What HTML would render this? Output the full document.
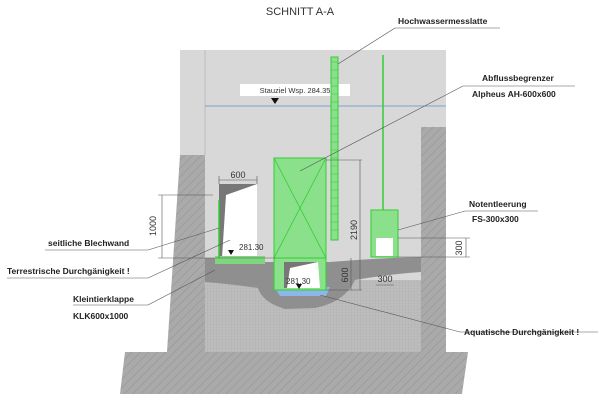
<!DOCTYPE html>
<html><head><meta charset="utf-8"><style>
html,body{margin:0;padding:0;background:#fff;width:600px;height:400px;overflow:hidden}
svg{display:block}
text{font-family:"Liberation Sans",sans-serif}
.lb{font-size:8.5px;font-weight:bold;fill:#222}
</style></head><body>
<svg width="600" height="400" viewBox="0 0 600 400">
<defs>
<pattern id="h" width="6" height="6" patternUnits="userSpaceOnUse" patternTransform="rotate(45)">
<rect width="6" height="6" fill="#aaa"/><line x1="0" y1="0" x2="0" y2="6" stroke="#959595" stroke-width="1.2"/></pattern>
<pattern id="g" width="3" height="3" patternUnits="userSpaceOnUse">
<rect width="3" height="3" fill="#bdbdbd"/><path d="M0 0H3M0 0V3" stroke="#adadad" stroke-width="0.6"/></pattern>
</defs>
<text x="300" y="15" font-size="11" text-anchor="middle" fill="#333">SCHNITT A-A</text>
<!-- slab -->
<polygon points="125,352 468,352 462,394 120,394" fill="url(#h)"/>
<!-- upper gray -->
<rect x="180" y="50" width="266" height="302" fill="#d8d8d8"/>
<line x1="205" y1="50" x2="205" y2="155" stroke="#bbb"/>
<!-- left wall -->
<polygon points="180,155 205,155 205,352 167,352" fill="url(#h)"/>
<!-- right wall -->
<rect x="421" y="127" width="25" height="225" fill="url(#h)"/>
<!-- grid ground -->
<rect x="205" y="280" width="216" height="72" fill="url(#g)"/>
<!-- stones -->
<path d="M205,258 Q230,258 260,262 Q300,262 330,262 Q380,258 421,257 L421,272 Q390,274 355,280 Q345,302 315,308 L285,309 Q262,302 258,288 Q230,284 205,282Z" fill="#8f8f8f"/>
<!-- water -->
<path d="M274,287 L330,287 L326,296 L280,296Z" fill="#8fb6e8"/>
<!-- water level -->
<line x1="205" y1="106" x2="446" y2="106" stroke="#7f9fd6" stroke-width="1"/>
<rect x="240" y="84" width="110" height="12" fill="#fff"/>
<text x="295" y="93" font-size="7.5" text-anchor="middle" fill="#333">Stauziel Wsp. 284.35</text>
<polygon points="271,98 279,98 275,104" fill="#111"/>
<!-- left opening -->
<polygon points="219,184 257,184 257,258 219,258" fill="#fff"/>
<polygon points="219,184 257,184 226,195 222,258 219,258" fill="#777"/>
<rect x="215" y="256" width="50" height="8" fill="#7ed67e"/>
<line x1="219" y1="200" x2="219" y2="258" stroke="#3c3" stroke-width="1.5"/>
<polygon points="228,250 234,250 231,255" fill="#111"/>
<text x="239" y="250" font-size="8" fill="#333">281.30</text>
<!-- green box -->
<rect x="274" y="158" width="52" height="100" fill="#8be08b" stroke="#3c3"/>
<path d="M274,158 L326,258 M326,158 L274,258" stroke="#3c3" stroke-width="0.8"/>
<rect x="274" y="258" width="52" height="32" fill="#8be08b" stroke="#3c3"/>
<polygon points="284,262 318,262 320,288 284,288" fill="#fff"/>
<polygon points="284,262 318,262 290,268 287,288 284,288" fill="#777"/>
<polygon points="296,284 302,284 299,289" fill="#111"/>
<text x="286" y="284" font-size="8" fill="#333">281.30</text>
<!-- gauge -->
<rect x="331" y="57" width="7" height="183" fill="#8be08b" stroke="#3c3"/>
<path d="M331,62H338M331,70H338M331,78H338M331,86H338M331,94H338M331,102H338M331,110H338M331,118H338M331,126H338M331,134H338M331,142H338M331,150H338M331,158H338M331,166H338M331,174H338M331,182H338M331,190H338M331,198H338M331,206H338M331,214H338M331,222H338M331,230H338" stroke="#3c3" stroke-width="0.6"/>
<!-- rod & gate -->
<line x1="383" y1="55" x2="383" y2="210" stroke="#3c3" stroke-width="1.5"/>
<rect x="371" y="210" width="27" height="47" fill="#8be08b" stroke="#3c3"/>
<rect x="376" y="238" width="17" height="18" fill="#fff"/>
<!-- dims -->
<g stroke="#555" stroke-width="0.6" fill="none">
<line x1="219" y1="180" x2="257" y2="180"/><line x1="219" y1="176" x2="219" y2="184"/><line x1="257" y1="176" x2="257" y2="184"/>
<line x1="158" y1="195" x2="213" y2="195"/><line x1="158" y1="258" x2="275" y2="258"/><line x1="162" y1="195" x2="162" y2="258"/>
<line x1="326" y1="160" x2="362" y2="160"/><line x1="360" y1="160" x2="360" y2="290"/><line x1="326" y1="290" x2="362" y2="290"/>
<line x1="351" y1="258" x2="351" y2="290"/>
<line x1="398" y1="238" x2="470" y2="238"/><line x1="398" y1="257" x2="470" y2="257"/><line x1="466" y1="238" x2="466" y2="257"/>
<line x1="376" y1="285" x2="394" y2="285"/>
<line x1="338" y1="64" x2="395" y2="28"/><line x1="395" y1="28" x2="500" y2="28"/>
<line x1="300" y1="171" x2="463" y2="86"/><line x1="463" y1="86" x2="575" y2="86"/>
<line x1="398" y1="230" x2="465" y2="211"/><line x1="465" y1="211" x2="538" y2="211"/>
<line x1="45" y1="250" x2="148" y2="250"/><line x1="148" y1="250" x2="219" y2="228"/>
<line x1="7" y1="278" x2="148" y2="278"/><line x1="148" y1="278" x2="230" y2="240"/>
<line x1="73" y1="305" x2="148" y2="305"/><line x1="148" y1="305" x2="215" y2="270"/>
<line x1="320" y1="295" x2="460" y2="332"/><line x1="460" y1="332" x2="598" y2="332"/>
</g>
<text x="238" y="178" font-size="9" text-anchor="middle" fill="#333">600</text>
<text transform="translate(156,226) rotate(-90)" font-size="9" text-anchor="middle" fill="#333">1000</text>
<text transform="translate(357,230) rotate(-90)" font-size="9" text-anchor="middle" fill="#333">2190</text>
<text transform="translate(348,275) rotate(-90)" font-size="9" text-anchor="middle" fill="#333">600</text>
<text transform="translate(462,248) rotate(-90)" font-size="9" text-anchor="middle" fill="#333">300</text>
<text x="385" y="282" font-size="9" text-anchor="middle" fill="#333">300</text>
<!-- labels -->
<text x="398" y="24" class="lb">Hochwassermesslatte</text>
<text x="482" y="81" class="lb">Abflussbegrenzer</text>
<text x="472" y="97" class="lb">Alpheus AH-600x600</text>
<text x="469" y="207" class="lb">Notentleerung</text>
<text x="472" y="222" class="lb">FS-300x300</text>
<text x="48" y="246" class="lb">seitliche Blechwand</text>
<text x="7" y="274" class="lb">Terrestrische Durchgänigkeit !</text>
<text x="73" y="302" class="lb">Kleintierklappe</text>
<text x="73" y="319" class="lb">KLK600x1000</text>
<text x="464" y="335" class="lb">Aquatische Durchgänigkeit !</text>
</svg>
</body></html>
